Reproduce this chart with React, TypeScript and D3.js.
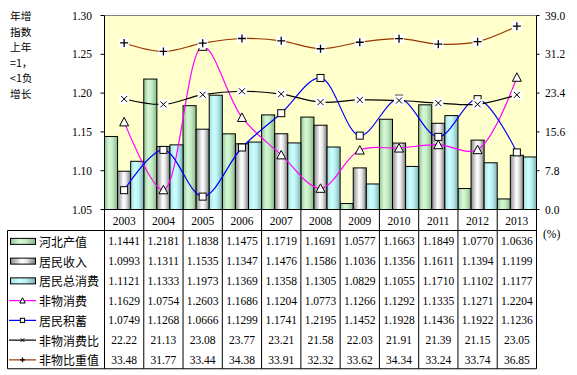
import React from "react";
import * as d3 from "d3";

const years = ["2003", "2004", "2005", "2006", "2007", "2008", "2009", "2010", "2011", "2012", "2013"];
const hebeiOutput = [1.1441, 1.2181, 1.1838, 1.1475, 1.1719, 1.1691, 1.0577, 1.1663, 1.1849, 1.077, 1.0636];
const income = [1.0993, 1.1311, 1.1535, 1.1347, 1.1476, 1.1586, 1.1036, 1.1356, 1.1611, 1.1394, 1.1199];
const totalConsumption = [1.1121, 1.1333, 1.1973, 1.1369, 1.1358, 1.1305, 1.0829, 1.1055, 1.171, 1.1102, 1.1177];
const nonMatConsumption = [1.1629, 1.0754, 1.2603, 1.1686, 1.1204, 1.0773, 1.1266, 1.1292, 1.1335, 1.1271, 1.2204];
const savings = [1.0749, 1.1268, 1.0666, 1.1299, 1.1741, 1.2195, 1.1452, 1.1928, 1.1436, 1.1922, 1.1236];
const nonMatRatio = [22.22, 21.13, 23.08, 23.77, 23.21, 21.58, 22.03, 21.91, 21.39, 21.15, 23.05];
const nonMatShare = [33.48, 31.77, 33.44, 34.38, 33.91, 32.32, 33.62, 34.34, 33.24, 33.74, 36.85];
const leftTicks = [1.05, 1.1, 1.15, 1.2, 1.25, 1.3];
const rightTicks = [0, 7.8, 15.6, 23.4, 31.2, 39.0];
const titleLines = ["年增", "指数", "上年", "=1，", "<1负", "增长"];

const seriesNames = ["河北产值", "居民收入", "居民总消费", "非物消费", "居民积蓄", "非物消费比", "非物比重值"];

const W = 577, H = 375;
const L = 104.5, R = 536.5, T = 15.5, B = 209.5;
const yearRowB = 230.5;
const rowH = 19.75;
const tableB = yearRowB + rowH * 7;
const legendL = 7.5;

const numFont = "'Liberation Serif', 'DejaVu Serif', serif";
const cjkFont = "'Noto Sans CJK SC', sans-serif";

function Marker({ kind, x, y, s = 1 }: { kind: string; x: number; y: number; s?: number }) {
  if (kind === "tri") {
    const h = 8 * s, w = 9 * s;
    return <path d={`M${x},${y - h / 2 - 0.5}L${x + w / 2},${y + h / 2}L${x - w / 2},${y + h / 2}Z`} fill="#fff" stroke="#000" strokeWidth={1} />;
  }
  if (kind === "sq") {
    const a = 7 * s;
    return <rect x={x - a / 2} y={y - a / 2} width={a} height={a} fill="#fff" stroke="#000" strokeWidth={1} />;
  }
  if (kind === "x") {
    const a = 3 * s;
    return (
      <g>
        {s >= 1 && <rect x={x - 5} y={y - 5} width={10} height={10} fill="#fff" />}
        <path d={`M${x - a},${y - a}L${x + a},${y + a}M${x - a},${y + a}L${x + a},${y - a}`} stroke="#000" strokeWidth={1} />
      </g>
    );
  }
  const a = 4 * s;
  return (
    <g>
      {s >= 1 && <rect x={x - 5} y={y - 5} width={10} height={10} fill="#fff" />}
      <path d={`M${x - a},${y}L${x + a},${y}M${x},${y - a}L${x},${y + a}`} stroke="#000" strokeWidth={1.3} />
    </g>
  );
}

export default function App() {
  const x = d3.scaleBand<string>().domain(years).range([L, R]).padding(0);
  const bw = x.bandwidth();
  const sub = d3.scaleBand<number>().domain([0, 1, 2]).range([0, bw]).padding(0);
  const yL = d3.scaleLinear().domain([1.05, 1.3]).range([B, T]);
  const yR = d3.scaleLinear().domain([0, 39]).range([B, T]);
  const cx = (i: number) => (x(years[i]) as number) + bw / 2;

  const barSeries = [
    { data: hebeiOutput, grad: "gGreen" },
    { data: income, grad: "gGray" },
    { data: totalConsumption, grad: "gCyan" },
  ];
  const lineSeries = [
    { data: nonMatConsumption, scale: yL, color: "#ff00ff", marker: "tri" },
    { data: savings, scale: yL, color: "#0000ff", marker: "sq" },
    { data: nonMatRatio, scale: yR, color: "#000000", marker: "x" },
    { data: nonMatShare, scale: yR, color: "#993300", marker: "plus" },
  ];
  const tableRows = [
    hebeiOutput.map((v) => v.toFixed(4)),
    income.map((v) => v.toFixed(4)),
    totalConsumption.map((v) => v.toFixed(4)),
    nonMatConsumption.map((v) => v.toFixed(4)),
    savings.map((v) => v.toFixed(4)),
    nonMatRatio.map((v) => v.toFixed(2)),
    nonMatShare.map((v) => v.toFixed(2)),
  ];

  const lineGen = (data: number[], scale: d3.ScaleLinear<number, number>) =>
    d3
      .line<number>()
      .x((_, i) => cx(i))
      .y((d) => scale(d))
      .curve(d3.curveCatmullRom.alpha(0.5))(data) as string;

  return (
    <svg width={W} height={H} style={{ position: "absolute", left: 0, top: 0 }}>
      <defs>
        <linearGradient id="gGreen" x1="0" x2="1" y1="0" y2="0">
          <stop offset="0" stopColor="#93c493" />
          <stop offset="0.35" stopColor="#d6f7d6" />
          <stop offset="0.6" stopColor="#c6eec6" />
          <stop offset="1" stopColor="#86b686" />
        </linearGradient>
        <linearGradient id="gGray" x1="0" x2="1" y1="0" y2="0">
          <stop offset="0" stopColor="#8a8a8a" />
          <stop offset="0.45" stopColor="#ffffff" />
          <stop offset="0.65" stopColor="#e6e6e6" />
          <stop offset="1" stopColor="#7a7a7a" />
        </linearGradient>
        <linearGradient id="gCyan" x1="0" x2="1" y1="0" y2="0">
          <stop offset="0" stopColor="#a8dede" />
          <stop offset="0.35" stopColor="#ccffff" />
          <stop offset="0.6" stopColor="#bdf2f2" />
          <stop offset="1" stopColor="#7fb3b3" />
        </linearGradient>
        <clipPath id="plotClip">
          <rect x={L} y={T - 6} width={R - L} height={B - T + 6} />
        </clipPath>
      </defs>
      <rect x={0} y={0} width={W} height={H} fill="#fff" />
      {/* plot background */}
      <rect x={L} y={T} width={R - L} height={B - T} fill="#ffffcc" />
      <line x1={L} x2={R} y1={T} y2={T} stroke="#808080" />

      {/* left title */}
      {titleLines.map((t, i) => (
        <text key={i} x={10} y={15.5 + i * 15.6} fontFamily={cjkFont} fontSize={10.7} dominantBaseline="central" fill="#000">
          {t}
        </text>
      ))}

      {/* bars */}
      <g>
        {barSeries.map((s, si) =>
          s.data.map((v, i) => {
            const bx = (x(years[i]) as number) + (sub(si) as number);
            const by = yL(v);
            return (
              <rect key={`${si}-${i}`} x={bx} y={by} width={sub.bandwidth()} height={B - by} fill={`url(#${s.grad})`} stroke="#000" strokeWidth={1} />
            );
          })
        )}
      </g>

      {/* lines */}
      <g clipPath="url(#plotClip)">
        {lineSeries.map((s, si) => (
          <path key={si} d={lineGen(s.data, s.scale)} fill="none" stroke={s.color} strokeWidth={1.2} />
        ))}
      </g>
      <g>
        {lineSeries.map((s, si) =>
          s.data.map((v, i) => <Marker key={`${si}-${i}`} kind={s.marker} x={cx(i)} y={s.scale(v)} />)
        )}
      </g>

      {/* axes */}
      <line x1={L} x2={L} y1={T} y2={tableB} stroke="#000" />
      <line x1={R} x2={R} y1={T} y2={tableB} stroke="#000" />
      {leftTicks.map((t) => (
        <g key={t}>
          <line x1={L - 4} x2={L} y1={yL(t)} y2={yL(t)} stroke="#000" />
          <text x={92} y={yL(t)} textAnchor="end" dominantBaseline="central" fontFamily={numFont} fontSize={11.5} fill="#000">
            {t.toFixed(2)}
          </text>
        </g>
      ))}
      {rightTicks.map((t) => (
        <g key={t}>
          <line x1={R} x2={R + 3} y1={yR(t)} y2={yR(t)} stroke="#000" />
          <text x={545} y={yR(t)} textAnchor="start" dominantBaseline="central" fontFamily={numFont} fontSize={11.5} fill="#000">
            {t.toFixed(1)}
          </text>
        </g>
      ))}
      <text x={543} y={234} dominantBaseline="central" fontFamily={numFont} fontSize={11.5} fill="#000">
        (%)
      </text>

      {/* table */}
      <line x1={L} x2={R} y1={B} y2={B} stroke="#000" />
      <line x1={legendL} x2={R} y1={yearRowB} y2={yearRowB} stroke="#000" />
      <line x1={legendL} x2={R} y1={tableB} y2={tableB} stroke="#000" />
      <line x1={legendL} x2={legendL} y1={yearRowB} y2={tableB} stroke="#000" />
      {years.map((yr, i) => (
        <g key={yr}>
          {i > 0 && <line x1={x(yr)} x2={x(yr)} y1={B} y2={tableB} stroke="#000" />}
          <text x={cx(i)} y={220.5} textAnchor="middle" dominantBaseline="central" fontFamily={numFont} fontSize={11.5} fill="#000">
            {yr}
          </text>
        </g>
      ))}
      {tableRows.map((row, ri) => {
        const ry = yearRowB + rowH * ri + rowH / 2 + 1;
        return (
          <g key={ri}>
            {row.map((t, i) => (
              <text key={i} x={cx(i)} y={ry} textAnchor="middle" dominantBaseline="central" fontFamily={numFont} fontSize={11.5} fill="#000">
                {t}
              </text>
            ))}
            {/* legend key */}
            {ri < 3 ? (
              <rect x={10.5} y={ry - 3} width={25} height={6} fill={`url(#${barSeries[ri].grad})`} stroke="#000" />
            ) : (
              <g>
                <line x1={9} x2={36} y1={ry} y2={ry} stroke={lineSeries[ri - 3].color} strokeWidth={1.2} />
                <Marker kind={lineSeries[ri - 3].marker} x={22.5} y={ry} s={0.6} />
              </g>
            )}
            <text x={39} y={ry} dominantBaseline="central" fontFamily={cjkFont} fontSize={12} fill="#000">
              {seriesNames[ri]}
            </text>
          </g>
        );
      })}
    </svg>
  );
}
